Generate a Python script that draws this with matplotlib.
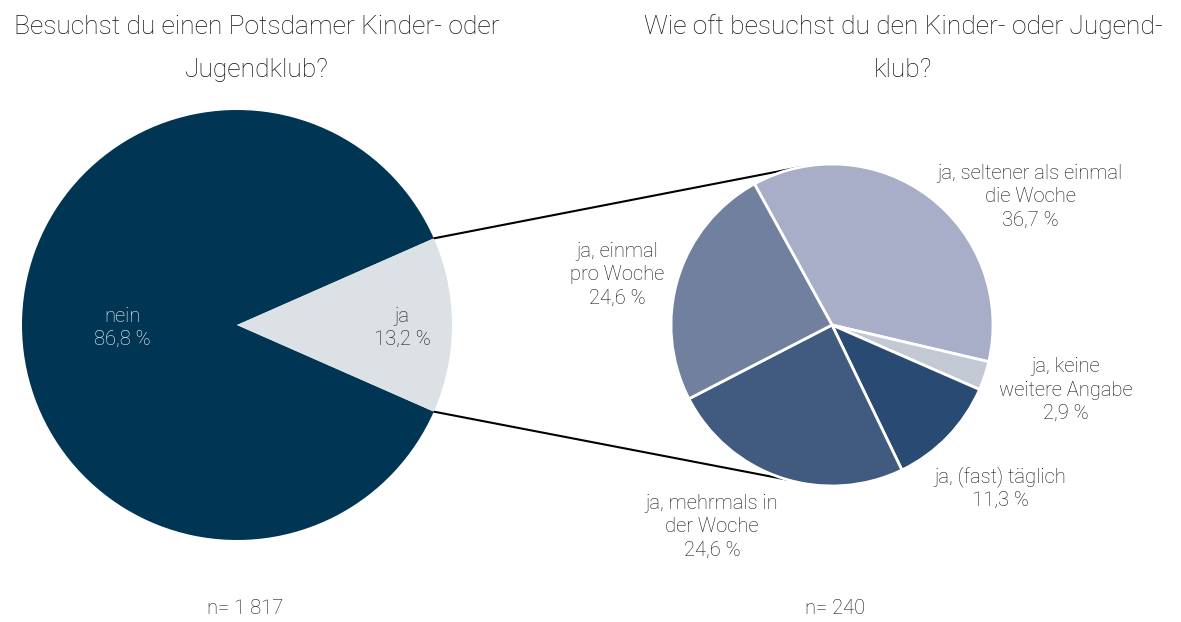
import numpy as np
import matplotlib
matplotlib.use("Agg")
import matplotlib.pyplot as plt

plt.rcParams['font.family'] = ['Roboto', 'DejaVu Sans']
plt.rcParams['font.weight'] = 'light'

# Data
left_title = ["Besuchst du einen Potsdamer Kinder- oder", "Jugendklub?"]
right_title = ["Wie oft besuchst du den Kinder- oder Jugend-", "klub?"]
left_labels = ["nein", "ja"]
left_values = [86.8, 13.2]
left_colors = ["#003553", "#dce1e5"]
left_n = "n= 1 817"

right_labels = ["ja, seltener als einmal\ndie Woche", "ja, keine\nweitere Angabe",
                "ja, (fast) täglich", "ja, mehrmals in\nder Woche", "ja, einmal\npro Woche"]
right_values = [36.7, 2.9, 11.3, 24.6, 24.6]
right_colors = ["#a9aec8", "#c3c8d5", "#294a72", "#405a80", "#72809f"]
right_n = "n= 240"


def fmt(v):
    return f"{v:.1f}".replace(".", ",") + " %"


W, H = 1181, 622
fig = plt.figure(figsize=(W / 100, H / 100), dpi=100)
ax = fig.add_axes([0, 0, 1, 1])

# Left pie
lc, lr = (237, 297), 215
ja_angle = left_values[1] / 100 * 360
ax.pie(left_values, colors=left_colors, center=lc, radius=lr,
       startangle=ja_angle / 2, counterclock=True, frame=True)

# Right pie
rc, rr = (832, 297), 161
ax.pie(right_values, colors=right_colors, center=rc, radius=rr,
       startangle=118.8, counterclock=False, frame=True,
       wedgeprops=dict(edgecolor='white', linewidth=2))
ax.set_xlim(0, W)
ax.set_ylim(0, H)
ax.set_aspect('equal')
ax.axis('off')

# Connector lines from left "ja" wedge edges to right pie
for sgn, ang in [(1, 101), (-1, -106)]:
    a1 = np.deg2rad(sgn * ja_angle / 2)
    p1 = (lc[0] + lr * np.cos(a1), lc[1] + lr * np.sin(a1))
    a2 = np.deg2rad(ang)
    p2 = (rc[0] + rr * np.cos(a2), rc[1] + rr * np.sin(a2))
    ax.plot([p1[0], p2[0]], [p1[1], p2[1]], color='black', lw=1.5, zorder=0)

tfs = 19
lfs = 14.5
tc = '#111111'
# Titles
ax.text(257, H - 27, left_title[0], ha='center', va='center', fontsize=tfs, color=tc)
ax.text(257, H - 70, left_title[1], ha='center', va='center', fontsize=tfs, color=tc)
ax.text(903, H - 27, right_title[0], ha='center', va='center', fontsize=tfs, color=tc)
ax.text(903, H - 70, right_title[1], ha='center', va='center', fontsize=tfs, color=tc)

# Left labels
ax.text(122, H - 328, f"{left_labels[0]}\n{fmt(left_values[0])}", ha='center', va='center',
        fontsize=lfs, color='white', linespacing=1.3)
ax.text(402, H - 328, f"{left_labels[1]}\n{fmt(left_values[1])}", ha='center', va='center',
        fontsize=lfs, color=tc, linespacing=1.3)

# Right labels (positions outside the pie)
rpos = [(1030, 197), (1066, 390), (1000, 488), (712, 527), (617, 275)]
for lab, v, (x, y) in zip(right_labels, right_values, rpos):
    ax.text(x, H - y, f"{lab}\n{fmt(v)}", ha='center', va='center', fontsize=lfs,
            color=tc, linespacing=1.3)

ax.text(245, H - 608, left_n, ha='center', va='center', fontsize=lfs, color=tc)
ax.text(835, H - 608, right_n, ha='center', va='center', fontsize=lfs, color=tc)

fig.savefig("out.png", dpi=100)
